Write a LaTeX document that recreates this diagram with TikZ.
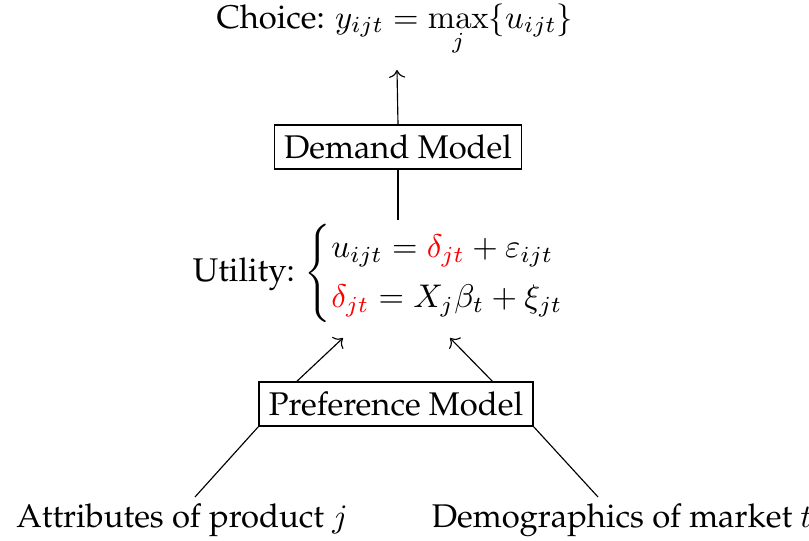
\documentclass[tikz,border=0pt]{standalone}
\usepackage[T1]{fontenc}
\usepackage{palatino}
\usepackage{amsmath,amssymb}
\usepackage{tikz}
\usetikzlibrary{arrows.meta,positioning,calc}
\usepackage{xcolor}
\tikzset{
  mbox/.style={draw,inner sep=3pt,line width=0.4pt},
  mtext/.style={inner sep=1pt},
  aedge/.style={->,line width=0.35pt},
  ledge/.style={-,line width=0.35pt},
}
\begin{document}
\begin{tikzpicture}[x=0.305pt,y=-0.305pt]
  \useasboundingbox (0,0) rectangle (809,541);
  \node[mtext] (choice) at (395,30){Choice: $y_{ijt}=\max\limits_{j}\{u_{ijt}\}$};
  \node[mbox] (demand) at (398,147){Demand Model};
  \node[mtext] (util) at (396,273){Utility: $\begin{cases}u_{ijt}=\textcolor{red}{\delta_{jt}}+\varepsilon_{ijt}\\[1pt] \textcolor{red}{\delta_{jt}}=X_j\beta_t+\xi_{jt}\end{cases}$};
  \node[mbox] (pref) at (396,404){Preference Model};
  \node[mtext] (attr) at (182,520){Attributes of product $j$};
  \node[mtext] (demo) at (622,520){Demographics of market $t$};
  \coordinate (ua) at (343,338); \coordinate (ub) at (450,338);
  \coordinate (ca) at (397,70);
  \coordinate (ta) at (195,497); \coordinate (tb) at (598,497);
  \draw[aedge] (demand.north)--(ca);
  \draw[ledge] (demand.south)--(demand.south|-util.north);
  \draw[aedge] ($(pref.north west)!0.14!(pref.north east)$)--(ua);
  \draw[aedge] ($(pref.north west)!0.85!(pref.north east)$)--(ub);
  \draw[ledge] (pref.south west)--(ta);
  \draw[ledge] (pref.south east)--(tb);
\end{tikzpicture}
\end{document}
